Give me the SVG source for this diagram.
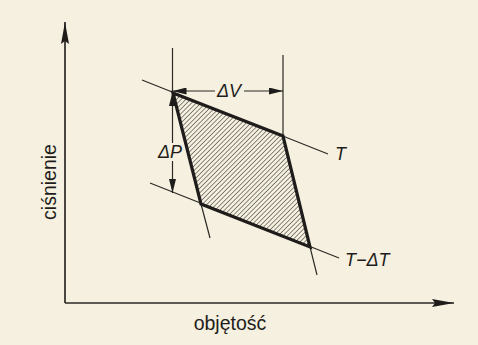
<svg xmlns="http://www.w3.org/2000/svg" width="478" height="345" viewBox="0 0 478 345">
<defs>
<style>
.thin{stroke:#2b2926;stroke-width:1.2;fill:none}
.ax{stroke:#2b2926;stroke-width:1.7;fill:none}
.bold{stroke:#1f1d1b;stroke-width:3.2;fill:url(#hatch);stroke-linejoin:miter}
.lbl{font-family:"Liberation Sans",Arial,sans-serif;font-style:italic;font-size:18px;fill:#1f1d1b}
.axl{font-family:"Liberation Sans",Arial,sans-serif;font-size:19.5px;fill:#1f1d1b}
</style>
<pattern id="hatch" width="3.3" height="3.3" patternUnits="userSpaceOnUse" patternTransform="rotate(45)">
<line x1="0" y1="0" x2="0" y2="3.3" stroke="#2e2b28" stroke-width="1.1"/>
</pattern>
<marker id="bigArrow" markerUnits="userSpaceOnUse" markerWidth="22" markerHeight="9" refX="22" refY="4.5" orient="auto">
<path d="M0,0.5 L22,4.5 L0,8.5 L3,4.5 z" fill="#1f1d1b"/>
</marker>
<marker id="dimArrow" markerUnits="userSpaceOnUse" markerWidth="14" markerHeight="7" refX="14" refY="3.5" orient="auto">
<path d="M0,0 L14,3.5 L0,7 z" fill="#1f1d1b"/>
</marker>
</defs>
<rect width="478" height="345" fill="#f5f0df"/>
<g id="axes">
<line class="ax" x1="65" y1="303" x2="65" y2="22" marker-end="url(#bigArrow)"/>
<line class="ax" x1="65" y1="303" x2="454" y2="303" marker-end="url(#bigArrow)"/>
</g>
<g id="axis-labels">
<text class="axl" x="230" y="330" text-anchor="middle">objętość</text>
<text class="axl" transform="translate(56,182) rotate(-90)" text-anchor="middle">ciśnienie</text>
</g>
<g id="connectors">
<line class="thin" x1="142" y1="80" x2="328" y2="154"/>
<line class="thin" x1="150" y1="183" x2="339" y2="258"/>
<line class="thin" x1="172.5" y1="48" x2="172.5" y2="93"/>
<line class="thin" x1="283" y1="55" x2="283" y2="136"/>
<line class="thin" x1="201" y1="204" x2="210" y2="238"/>
<line class="thin" x1="310" y1="247" x2="317" y2="275"/>
</g>
<g id="region">
<polygon class="bold" points="173,93 283,136 310,247 201,204"/>
</g>
<g id="dimension-V">
<line class="thin" x1="215" y1="91" x2="172.5" y2="91" marker-end="url(#dimArrow)"/>
<line class="thin" x1="244" y1="91" x2="283" y2="91" marker-end="url(#dimArrow)"/>
<text class="lbl" x="229" y="97" text-anchor="middle">ΔV</text>
</g>
<g id="dimension-P">
<line class="thin" x1="172.5" y1="143" x2="172.5" y2="92" marker-end="url(#dimArrow)"/>
<line class="thin" x1="172.5" y1="161" x2="172.5" y2="193" marker-end="url(#dimArrow)"/>
<text class="lbl" x="170" y="158" text-anchor="middle">ΔP</text>
</g>
<g id="isotherm-labels">
<text class="lbl" x="335" y="160">T</text>
<text class="lbl" x="345" y="266">T−ΔT</text>
</g>
</svg>
